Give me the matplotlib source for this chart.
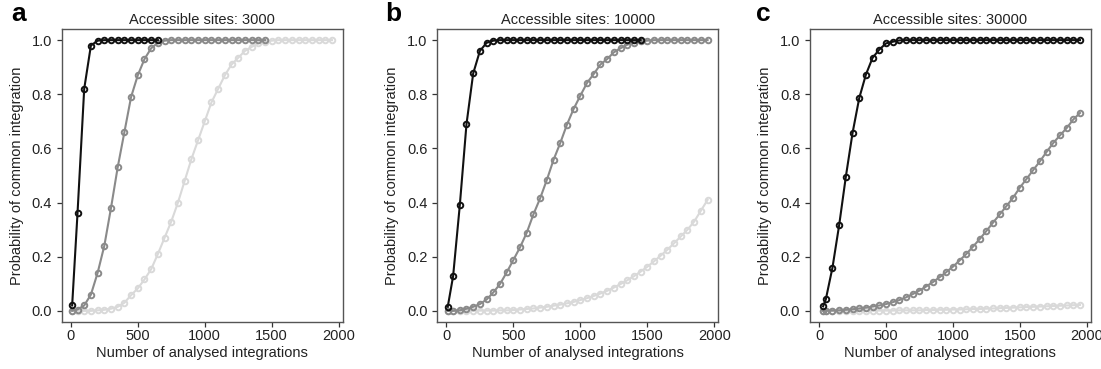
import matplotlib
matplotlib.use("Agg")
import matplotlib.pyplot as plt

plt.rcParams['font.family'] = ['Liberation Sans', 'DejaVu Sans']

# eixo x comum (numero de integracoes analisadas)
x_ab = [10, 50, 100, 150, 200, 250, 300, 350, 400, 450, 500, 550, 600, 650, 700,
        750, 800, 850, 900, 950, 1000, 1050, 1100, 1150, 1200, 1250, 1300, 1350,
        1400, 1450, 1500, 1550, 1600, 1650, 1700, 1750, 1800, 1850, 1900, 1950]
x_c = [30, 50, 100, 150, 200, 250, 300, 350, 400, 450, 500, 550, 600, 650, 700,
       750, 800, 850, 900, 950, 1000, 1050, 1100, 1150, 1200, 1250, 1300, 1350,
       1400, 1450, 1500, 1550, 1600, 1650, 1700, 1750, 1800, 1850, 1900, 1950]

# painel a: 3000 sitios acessiveis
a_black = [0.02, 0.36, 0.82, 0.98, 0.998, 1.0, 1.0, 1.0, 1.0, 1.0, 1.0, 1.0, 1.0, 1.0]
a_gray = [0.0, 0.005, 0.02, 0.06, 0.14, 0.24, 0.38, 0.53, 0.66, 0.79, 0.87, 0.93,
          0.97, 0.99, 0.998, 1.0, 1.0, 1.0, 1.0, 1.0, 1.0, 1.0, 1.0, 1.0, 1.0,
          1.0, 1.0, 1.0, 1.0, 1.0]
a_light = [0.0, 0.0, 0.0, 0.0, 0.002, 0.004, 0.008, 0.015, 0.03, 0.058, 0.083,
           0.116, 0.154, 0.21, 0.27, 0.33, 0.40, 0.48, 0.56, 0.63, 0.70, 0.77,
           0.82, 0.87, 0.91, 0.935, 0.96, 0.975, 0.988, 0.994, 0.998, 1.0, 1.0,
           1.0, 1.0, 1.0, 1.0, 1.0, 1.0, 1.0]

# painel b: 10000 sitios acessiveis
b_black = [0.015, 0.128, 0.39, 0.69, 0.877, 0.96, 0.99, 0.998, 1.0, 1.0, 1.0, 1.0,
           1.0, 1.0, 1.0, 1.0, 1.0, 1.0, 1.0, 1.0, 1.0, 1.0, 1.0, 1.0, 1.0, 1.0,
           1.0, 1.0, 1.0, 1.0]
b_gray = [0.0, 0.0, 0.002, 0.008, 0.015, 0.025, 0.042, 0.068, 0.099, 0.142, 0.188,
          0.235, 0.289, 0.357, 0.416, 0.484, 0.558, 0.62, 0.688, 0.746, 0.795,
          0.842, 0.875, 0.91, 0.93, 0.955, 0.97, 0.983, 0.99, 0.995, 0.998, 1.0,
          1.0, 1.0, 1.0, 1.0, 1.0, 1.0, 1.0, 1.0]
b_light = [0.0, 0.0, 0.0, 0.0, 0.0, 0.001, 0.001, 0.001, 0.002, 0.002, 0.003,
           0.005, 0.007, 0.009, 0.012, 0.015, 0.019, 0.023, 0.028, 0.033, 0.04,
           0.047, 0.055, 0.064, 0.074, 0.086, 0.099, 0.113, 0.128, 0.145, 0.163,
           0.183, 0.204, 0.226, 0.25, 0.275, 0.30, 0.33, 0.37, 0.41]

# painel c: 30000 sitios acessiveis
c_black = [0.017, 0.042, 0.16, 0.317, 0.496, 0.657, 0.786, 0.873, 0.935, 0.965,
           0.988, 0.994, 0.999, 1.0, 1.0, 1.0, 1.0, 1.0, 1.0, 1.0, 1.0, 1.0, 1.0,
           1.0, 1.0, 1.0, 1.0, 1.0, 1.0, 1.0, 1.0, 1.0, 1.0, 1.0, 1.0, 1.0, 1.0,
           1.0, 1.0, 1.0]
c_gray = [0.0, 0.0, 0.001, 0.002, 0.004, 0.006, 0.009, 0.012, 0.016, 0.02, 0.025,
          0.032, 0.04, 0.05, 0.062, 0.075, 0.09, 0.106, 0.124, 0.143, 0.163,
          0.186, 0.21, 0.237, 0.265, 0.295, 0.326, 0.356, 0.387, 0.418, 0.455,
          0.487, 0.52, 0.552, 0.587, 0.62, 0.648, 0.675, 0.707, 0.731]
c_light = [0.0, 0.0, 0.0, 0.0, 0.0, 0.001, 0.001, 0.001, 0.001, 0.001, 0.001,
           0.001, 0.002, 0.002, 0.002, 0.002, 0.003, 0.003, 0.004, 0.004, 0.005,
           0.005, 0.006, 0.007, 0.007, 0.008, 0.009, 0.01, 0.011, 0.012, 0.013,
           0.014, 0.015, 0.016, 0.017, 0.018, 0.019, 0.02, 0.021, 0.022]

letras = ['a', 'b', 'c']
titulos = ['Accessible sites: 3000', 'Accessible sites: 10000', 'Accessible sites: 30000']
cores = ['#111111', '#8a8a8a', '#d9d9d9']

paineis = [
    [(x_ab, a_black), (x_ab, a_gray), (x_ab, a_light)],
    [(x_ab, b_black), (x_ab, b_gray), (x_ab, b_light)],
    [(x_c, c_black), (x_c, c_gray), (x_c, c_light)],
]

# posicao dos eixos em pixels (esquerda, topo, direita, baixo)
W, H = 1101, 369
caixas = [(61.7, 29.3, 342.7, 321.7), (437.3, 29.3, 718.3, 321.7), (810, 29.3, 1090.7, 321.7)]
letra_x = [11, 385, 756]

fig = plt.figure(figsize=(W / 100, H / 100), dpi=100)

for k in range(3):
    l, t, r, b = caixas[k]
    ax = fig.add_axes([l / W, 1 - b / H, (r - l) / W, (b - t) / H])

    # desenha do mais claro para o mais escuro
    for j in [2, 1, 0]:
        xs, ys = paineis[k][j]
        ax.plot(xs[:len(ys)], ys, color=cores[j], lw=1.5, marker='o', ms=4,
                mfc='none', mec=cores[j], mew=1.4, zorder=3 - j)

    ax.set_xlim(-68, 2030)
    ax.set_ylim(-0.04, 1.04)
    ax.set_xticks([0, 500, 1000, 1500, 2000])
    ax.set_yticks([0.0, 0.2, 0.4, 0.6, 0.8, 1.0])
    ax.set_yticklabels(['0.0', '0.2', '0.4', '0.6', '0.8', '1.0'])
    ax.tick_params(direction='out', length=3.5, width=0.9, pad=1.5, labelsize=10.5,
                   colors='#333333', labelcolor='#222222')
    ax.tick_params(axis='y', pad=3.5)
    for s in ax.spines.values():
        s.set_color('#555555')
        s.set_linewidth(1.0)

    ax.set_title(titulos[k], fontsize=10.5, pad=4, color='#222222')
    ax.set_xlabel('Number of analysed integrations', fontsize=10.5, labelpad=2.5, color='#222222')
    ax.set_ylabel('Probability of common integration', fontsize=10.5, color='#222222')
    ax.yaxis.set_label_coords(-0.135, 0.5)

    fig.text(letra_x[k] / W, 1 - 2 / H, letras[k], fontsize=19, fontweight='bold',
             va='top', ha='left')

fig.savefig('out.png', dpi=100)
